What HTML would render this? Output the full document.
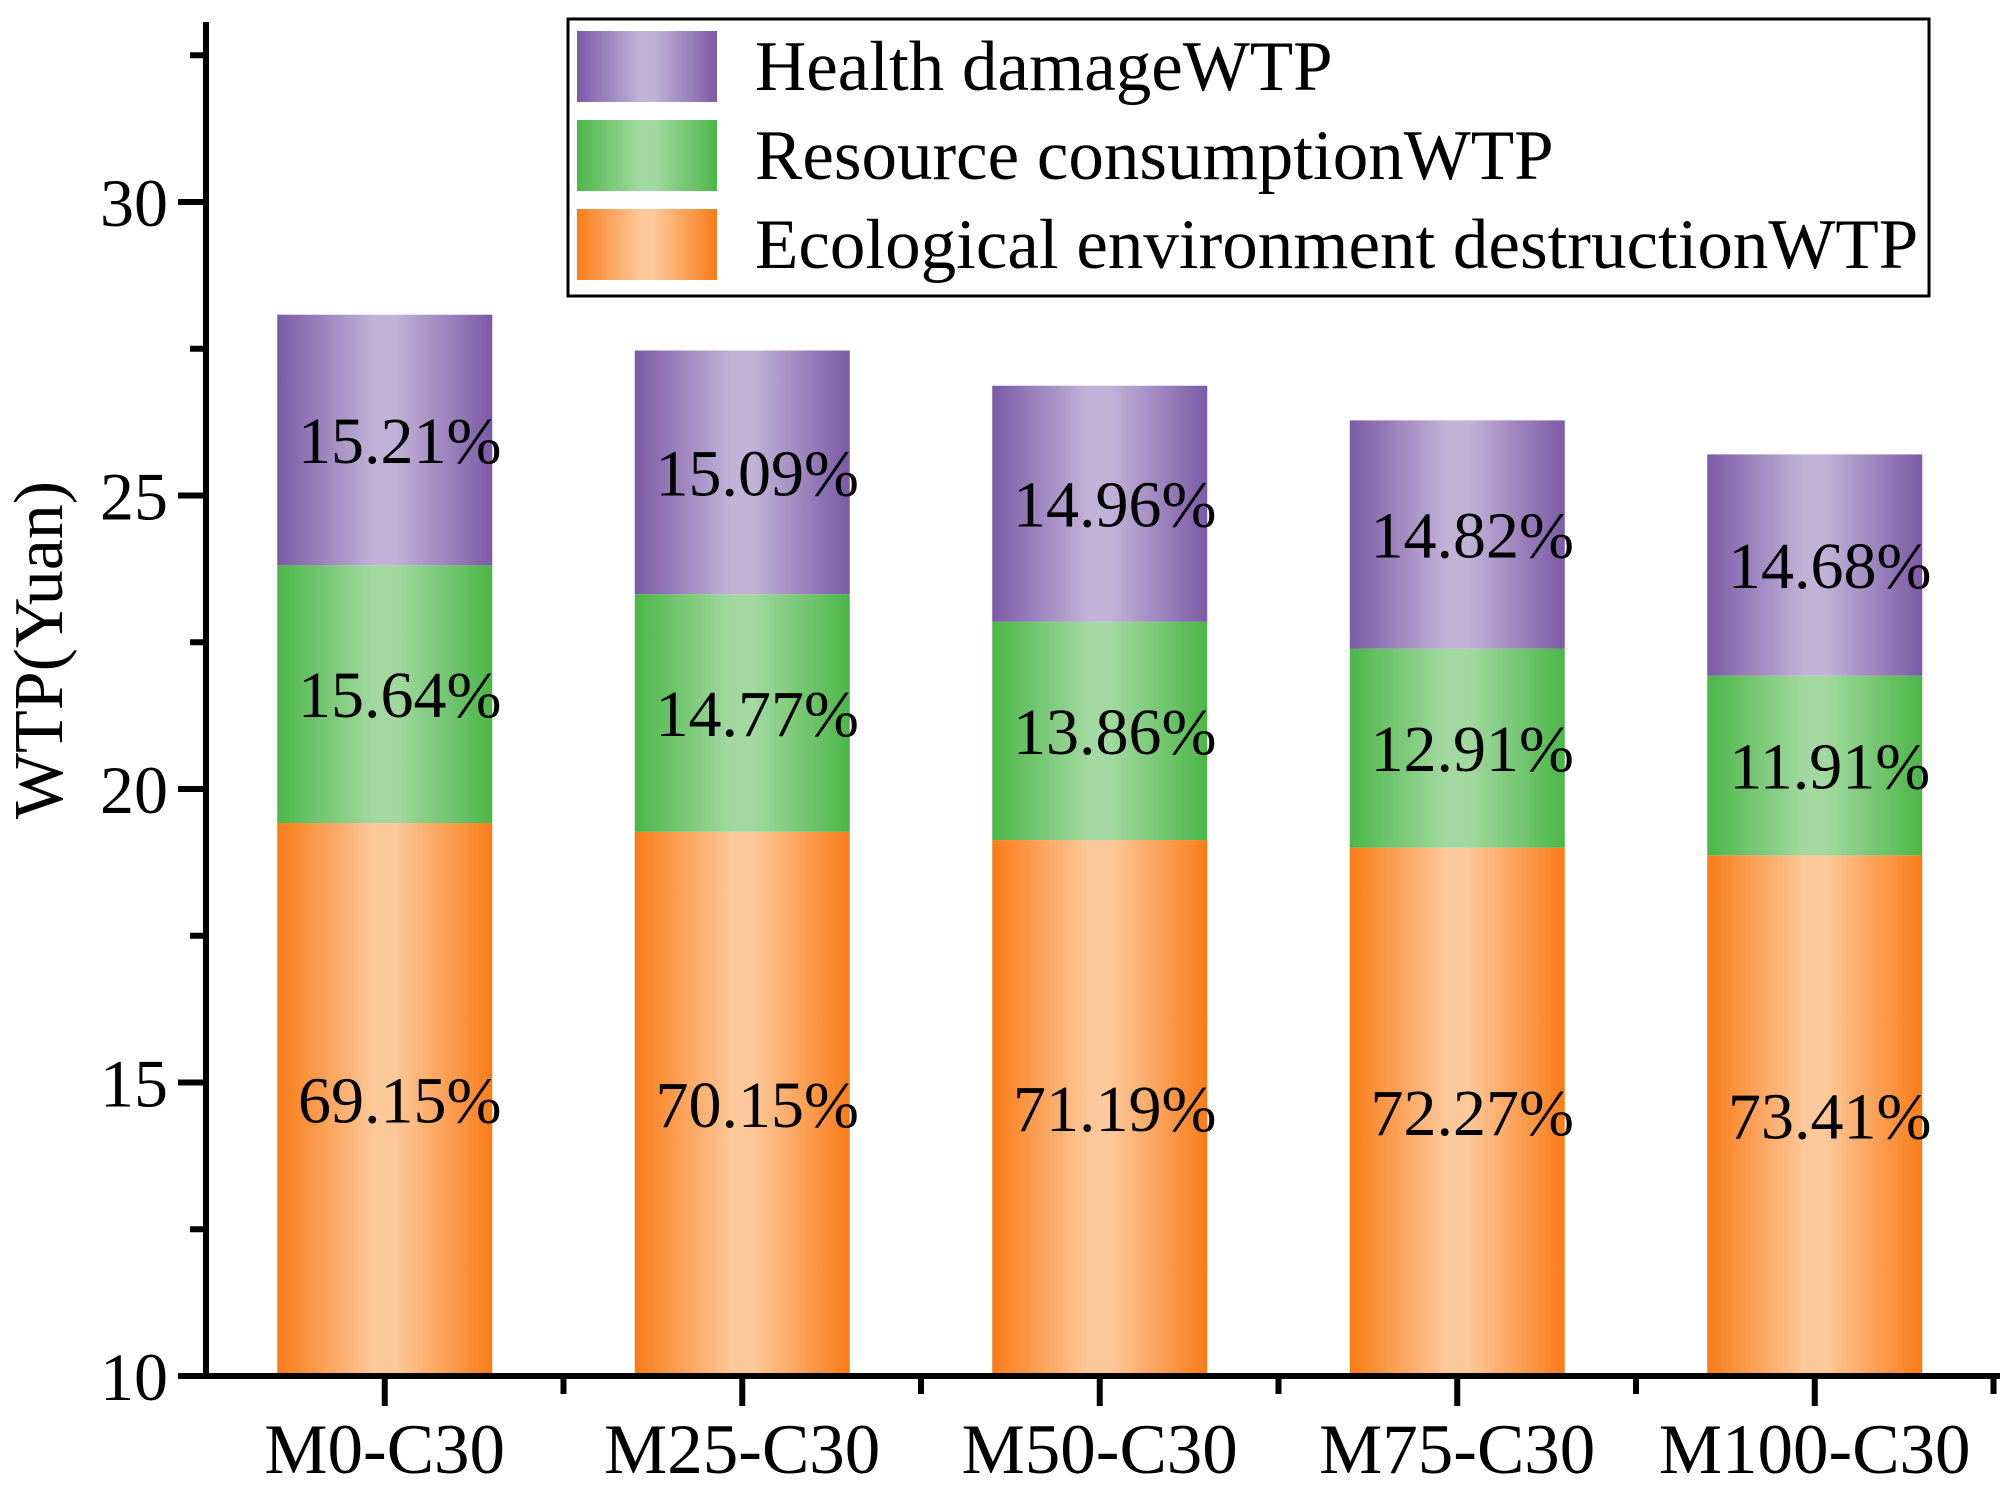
<!DOCTYPE html>
<html><head><meta charset="utf-8"><style>
html,body{margin:0;padding:0;background:#fff;}
svg text{font-family:"Liberation Serif",serif;fill:#000;}
</style></head><body>
<svg id="chart" width="2016" height="1491" viewBox="0 0 2016 1491" xmlns="http://www.w3.org/2000/svg">
<defs>
<linearGradient id="gP" x1="0" x2="1" y1="0" y2="0"><stop offset="0" stop-color="#7b5aa6"/><stop offset="0.45" stop-color="#c2b2d8"/><stop offset="0.55" stop-color="#c2b2d8"/><stop offset="1" stop-color="#7b5aa6"/></linearGradient>
<linearGradient id="gG" x1="0" x2="1" y1="0" y2="0"><stop offset="0" stop-color="#4cb648"/><stop offset="0.45" stop-color="#a2d9a0"/><stop offset="0.55" stop-color="#a2d9a0"/><stop offset="1" stop-color="#4cb648"/></linearGradient>
<linearGradient id="gO" x1="0" x2="1" y1="0" y2="0"><stop offset="0" stop-color="#f97c18"/><stop offset="0.45" stop-color="#fdc89a"/><stop offset="0.55" stop-color="#fdc89a"/><stop offset="1" stop-color="#f97c18"/></linearGradient>
</defs>
<g id="bars"></g>
<g id="axes"></g>
</svg>
<script>
const categories = ["M0-C30","M25-C30","M50-C30","M75-C30","M100-C30"];
const ecological = [19.42,19.27,19.13,19.00,18.87];
const resource = [4.39,4.05,3.72,3.39,3.06];
const health = [4.27,4.15,4.02,3.89,3.77];
const ecoPct = ["69.15%","70.15%","71.19%","72.27%","73.41%"];
const resPct = ["15.64%","14.77%","13.86%","12.91%","11.91%"];
const healthPct = ["15.21%","15.09%","14.96%","14.82%","14.68%"];
const yTicks = [10,15,20,25,30];

const NS="http://www.w3.org/2000/svg";
const X0=206, X1=2000, Y0=1376, YMIN=10, YMAX=33;
const PXU=(1376-202)/20;
function y(v){return Y0-(v-YMIN)*PXU;}
function x(i){return X0+(i+0.5)*357.5;}
const BW=215;
function mk(tag,attrs,parent){const e=document.createElementNS(NS,tag);for(const k in attrs)e.setAttribute(k,attrs[k]);parent.appendChild(e);return e;}
const bars=document.getElementById('bars'), axes=document.getElementById('axes');
const series=[{vals:ecological,fill:"url(#gO)",pct:ecoPct,name:"ecological"},{vals:resource,fill:"url(#gG)",pct:resPct,name:"resource"},{vals:health,fill:"url(#gP)",pct:healthPct,name:"health"}];
categories.forEach((c,i)=>{
  let base=0;
  series.forEach(s=>{
    const lo=Math.max(base,YMIN), hi=base+s.vals[i];
    base=hi;
    const r=mk('rect',{x:x(i)-BW/2,y:y(hi),width:BW,height:y(lo)-y(hi),fill:s.fill},bars);
    
    
    const t=mk('text',{x:x(i)+15,y:(y(lo)+y(hi))/2+23,'text-anchor':'middle','font-size':66},bars);
    t.textContent=s.pct[i];
    
    
  });
  const tk=mk('line',{x1:x(i),x2:x(i),y1:Y0,y2:Y0+30,stroke:'#000','stroke-width':6},axes);
  
  
  const mt=mk('line',{x1:x(i)+178.75,x2:x(i)+178.75,y1:Y0,y2:Y0+18,stroke:'#000','stroke-width':6},axes);
  
  
  const lb=mk('text',{x:x(i),y:Y0+97,'text-anchor':'middle','font-size':71},axes);
  lb.textContent=c;
  
  
});
for(let v=10;v<=YMAX;v+=2.5){
  const major=yTicks.includes(v);
  const t=mk('line',{x1:X0-(major?28:16),x2:X0,y1:y(v),y2:y(v),stroke:'#000','stroke-width':6},axes);
  
  
}
yTicks.forEach(v=>{
  const t=mk('text',{x:X0-38,y:y(v)+24,'text-anchor':'end','font-size':68},axes);
  t.textContent=v;
  
  
});
const ya=mk('line',{x1:X0,x2:X0,y1:22,y2:Y0+3,stroke:'#000','stroke-width':6},axes);


const xa=mk('line',{x1:X0-28,x2:X1,y1:Y0,y2:Y0,stroke:'#000','stroke-width':6},axes);


const yt=mk('text',{x:0,y:0,transform:'translate(62,650) rotate(-90)','text-anchor':'middle','font-size':70},axes);
yt.textContent='WTP(Yuan)';


// legend
const lg=mk('g',{},axes);


mk('rect',{x:568,y:19,width:1361,height:277,fill:'#fff',stroke:'#000','stroke-width':3},lg);
const legItems=[["url(#gP)","Health damageWTP"],["url(#gG)","Resource consumptionWTP"],["url(#gO)","Ecological environment destructionWTP"]];
legItems.forEach((it,k)=>{
  const cy=66+k*89;
  const sw=mk('rect',{x:577,y:cy-35,width:140,height:71,fill:it[0]},lg);
  
  
  const t=mk('text',{x:755,y:cy+24,'font-size':71},lg);
  t.textContent=it[1];
  
  
});
</script>
</body></html>
